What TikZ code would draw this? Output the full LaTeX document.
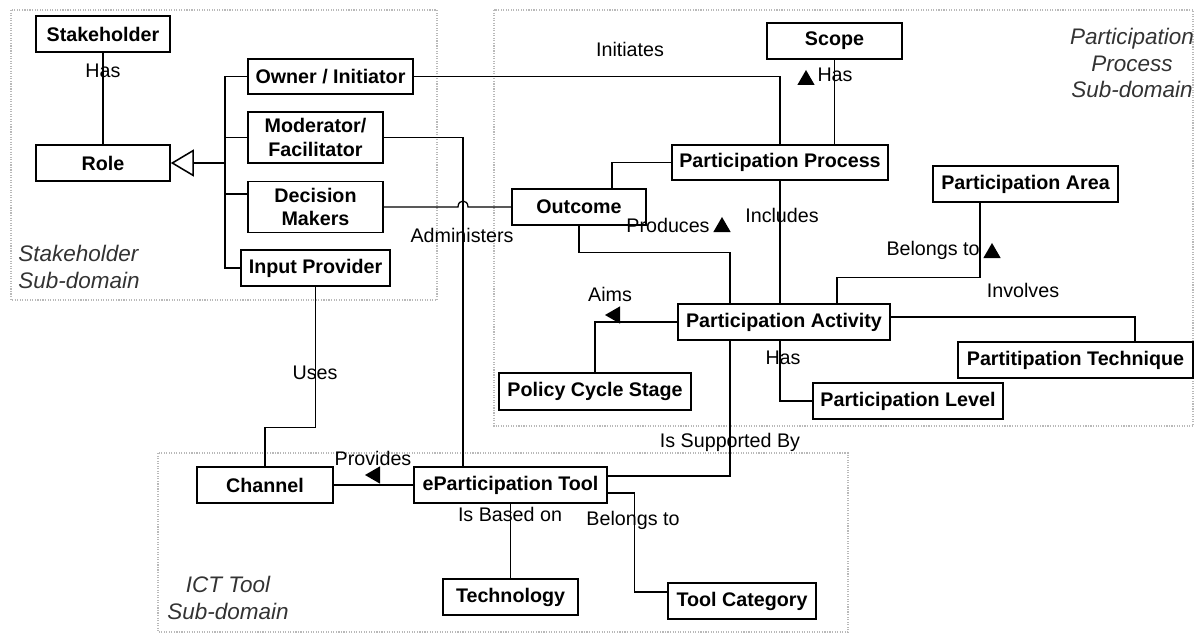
\documentclass[tikz,border=0pt]{standalone}
\usepackage{fontspec}
\setmainfont{Liberation Sans}
\usetikzlibrary{arrows.meta,shapes.geometric}
\tikzset{
  entity/.style    = {draw, line width=1.1pt, rectangle, align=center, inner sep=0pt,
                      minimum height=0.9cm, font=\fontsize{14}{16.5}\selectfont\bfseries},
  rel/.style       = {line width=0.9pt},
  lbl/.style       = {inner sep=0pt, font=\fontsize{14}{16.5}\selectfont},
  subdomain/.style = {draw=gray!55, densely dotted, line width=0.8pt},
  domainlbl/.style = {inner sep=0pt, text=black!80, font=\fontsize{16}{18.8}\selectfont\itshape},
  dirup/.style     = {fill, regular polygon, regular polygon sides=3, minimum size=0.5cm, inner sep=0pt},
  dirleft/.style   = {dirup, rotate=90},
  genarrow/.style  = {-{Triangle[open, length=0.575cm, width=0.675cm, line width=1.1pt]}, line width=1.4pt}
}

\begin{document}
\begin{tikzpicture}[x=0.025cm, y=-0.025cm]
    \useasboundingbox (0,0) rectangle (1200,636);

    % sub-domains
    \draw[subdomain] (11,10)  rectangle (437,300);
    \draw[subdomain] (494,10) rectangle (1193,426);
    \draw[subdomain] (158,453) rectangle (848,632);
    \node[domainlbl, anchor=west, align=left] (sdlbl) at (18,267) {Stakeholder\\Sub-domain};
    \node[domainlbl, align=center] (pdlbl) at (1132,63) {Participation\\Process\\Sub-domain};
    \node[domainlbl, align=center] (idlbl) at (228,598) {ICT Tool\\Sub-domain};

    % stakeholder sub-domain
    \node[entity, minimum width=3.35cm]  (stakeholder) at (103,34)    {Stakeholder};
    \node[entity, minimum width=3.35cm]  (role)        at (103,163)   {Role};
    \node[entity, minimum width=4.125cm, minimum height=0.875cm] (owner) at (330.5,76.5) {Owner / Initiator};
    \node[entity, minimum width=3.375cm, minimum height=1.275cm] (moderator) at (315.5,137.5) {Moderator/\\Facilitator};
    \node[entity, minimum width=3.375cm, minimum height=1.275cm] (decision)  at (315.5,207) {Decision\\Makers};
    \node[entity, minimum width=3.725cm] (input)       at (315.5,268) {Input Provider};

    % participation process sub-domain
    \node[entity, minimum width=3.375cm] (scope)     at (834.5,41)   {Scope};
    \node[entity, minimum width=5.4cm, minimum height=0.875cm] (process) at (780,162.5) {Participation Process};
    \node[entity, minimum width=3.35cm]  (outcome)   at (579,207)    {Outcome};
    \node[entity, minimum width=4.625cm] (area)      at (1025.5,184) {Participation Area};
    \node[entity, minimum width=5.3cm]   (activity)  at (784,322)    {Participation Activity};
    \node[entity, minimum width=4.8cm, minimum height=0.925cm] (policy) at (595,391.5) {Policy Cycle Stage};
    \node[entity, minimum width=4.75cm]  (level)     at (908,401)    {Participation Level};
    \node[entity, minimum width=5.875cm] (technique) at (1075.5,360) {Partitipation Technique};

    % ICT tool sub-domain
    \node[entity, minimum width=3.4cm]   (channel)    at (265,485)   {Channel};
    \node[entity, minimum width=4.825cm] (tool)       at (510.5,485) {eParticipation Tool};
    \node[entity, minimum width=3.375cm] (technology) at (510.5,597) {Technology};
    \node[entity, minimum width=3.7cm]   (category)   at (742,601)   {Tool Category};

    % roles
    \coordinate (bus) at (225,163);
    \draw[genarrow] (bus) -- (role.east);
    \draw[rel] (owner.west) -| (bus);
    \draw[rel] (moderator.west) -| (bus);
    \draw[rel] ([yshift=0.325cm]decision.west) -| (bus);
    \draw[rel] (input.west) -| (bus);
    \draw[rel] (stakeholder) -- (role);
    \node[lbl] (has1) at (103,71) {Has};

    % relations
    \draw[rel] (owner.east) -| (process.north);
    \node[lbl] (initiates) at (630,49) {Initiates};
    \draw[rel] (scope.south) -- (scope.south |- process.north);
    \node[lbl] (has2) at (835,75) {Has};
    \node[dirup] (has2dir) at (806,80) {};
    \draw[rel] (moderator.east) -| ([xshift=-1.1875cm]tool.north);
    \node[lbl] (administers) at (462,235) {Administers};
    \draw[rel] (decision.east) -- (458,207) .. controls (458,199) and (468,199) .. (468,207) -- (outcome.west);
    \draw[rel] (process.west) -| ([xshift=0.825cm]outcome.north);
    \draw[rel] (outcome.south) -- ++(0,27) -| ([xshift=-1.35cm]activity.north);
    \node[lbl] (produces) at (668,225) {Produces};
    \node[dirup] (producesdir) at (722,227) {};
    \draw[rel] (process.south) -- (process.south |- activity.north);
    \node[lbl] (includes) at (782,215) {Includes};
    \draw[rel] ([xshift=-0.1cm]activity.south) |- (level.west);
    \node[lbl] (has3) at (783,358) {Has};
    \draw[rel] ([xshift=1.325cm]activity.north) -- ++(0,-26) -| ([xshift=-1.1375cm]area.south);
    \node[lbl] (belongs1) at (933,250) {Belongs to};
    \node[dirup] (belongs1dir) at (992,253) {};
    \node[lbl] (involves) at (1023,290) {Involves};
    \draw[rel] ([yshift=0.125cm]activity.east) -| ([xshift=1.4875cm]technique.north);
    \draw[rel] (activity.west) -| (policy.north);
    \node[lbl] (aims) at (610,294) {Aims};
    \node[dirleft] (aimsdir) at (615,315) {};
    \draw[rel] ([xshift=-1.35cm]activity.south) |- ([yshift=0.225cm]tool.east);
    \node[lbl] (supported) at (730,442) {Is Supported By};
    \draw[rel] (input.south) -- ++(0,141) -| (channel.north);
    \node[lbl] (uses) at (315,373) {Uses};
    \draw[rel] (tool.west) -- (channel.east);
    \node[lbl] (provides) at (373,458) {Provides};
    \node[dirleft] (providesdir) at (375,475) {};
    \draw[rel] (tool.south) -- (technology.north);
    \node[lbl] (based) at (510,514) {Is Based on};
    \draw[rel] ([yshift=-0.2cm]tool.east) -- ++(27,0) |- ([yshift=0.225cm]category.west);
    \node[lbl] (belongs2) at (633,520) {Belongs to};
\end{tikzpicture}
\end{document}
